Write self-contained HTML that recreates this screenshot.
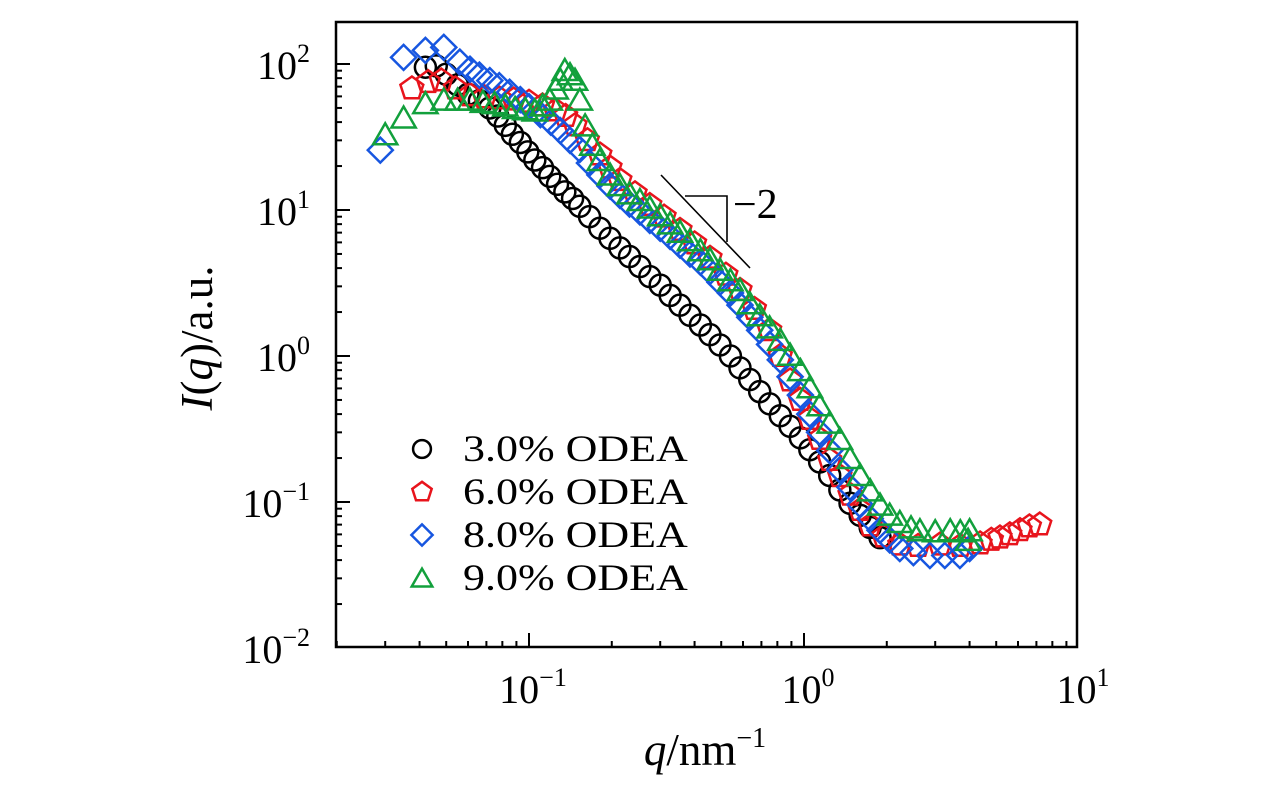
<!DOCTYPE html>
<html><head><meta charset="utf-8"><style>
html,body{margin:0;padding:0;background:#fff;}
svg{display:block;font-family:"Liberation Serif",serif;}
</style></head><body>
<svg id="chart" width="1276" height="787" viewBox="0 0 1276 787" xmlns="http://www.w3.org/2000/svg">
<g id="series"></g>
<rect x="336" y="22" width="741" height="625" fill="none" stroke="#000" stroke-width="2.5"/>
<g id="ticks"></g>
<g stroke="#000" stroke-width="1.6" fill="none">
<line x1="661" y1="175" x2="750" y2="268"/>
<polyline points="685,196 727,196 727,242"/>
</g>
<text x="733" y="218" font-size="42">−2</text>
<g id="legend"></g>
<text x="705" y="765" font-size="45" text-anchor="middle"><tspan font-style="italic">q</tspan>/nm<tspan dy="-18" font-size="28">−1</tspan></text>
<text transform="translate(212,338) rotate(-90)" font-size="45" text-anchor="middle"><tspan font-style="italic">I</tspan>(<tspan font-style="italic">q</tspan>)/a.u.</text>
</svg>
<script>
const xTickExps=[-1,0,1];
const yTickExps=[2,1,0,-1,-2];
const legendLabels=["3.0% ODEA","6.0% ODEA","8.0% ODEA","9.0% ODEA"];
const q3=[0.042,0.046,0.05,0.055,0.06,0.066,0.072,0.077,0.082,0.087,0.093,0.099,0.105,0.112,0.119,0.127,0.135,0.144,0.153,0.166,0.181,0.197,0.214,0.232,0.253,0.275,0.30,0.326,0.354,0.385,0.42,0.455,0.495,0.54,0.585,0.635,0.69,0.75,0.82,0.89,0.97,1.05,1.14,1.24,1.35,1.47,1.6,1.74,1.89];
const i3=[95,97,85,72,62,56,50,44,38,33,29,25,22,19.5,17,15,13.3,12,10.6,9,7.5,6.4,5.5,4.8,4.1,3.5,3.06,2.6,2.23,1.9,1.63,1.4,1.19,1.0,0.83,0.69,0.57,0.47,0.39,0.33,0.275,0.228,0.188,0.152,0.121,0.098,0.081,0.067,0.057];
const q6=[0.0375,0.043,0.048,0.054,0.061,0.069,0.078,0.088,0.1,0.112,0.125,0.136,0.147,0.163,0.181,0.197,0.214,0.243,0.275,0.31,0.354,0.4,0.455,0.52,0.585,0.66,0.75,0.82,0.89,0.97,1.05,1.14,1.24,1.35,1.47,1.6,1.74,1.95,2.23,2.6,3.12,3.7,4.37,4.8,5.16,5.6,6.1,6.6,7.2];
const i6=[68,75,77,68,61,59,58,57,55,52,48,44,38,30,24,19.5,16,13,10.8,9,7.3,5.9,4.7,3.6,2.83,2.1,1.5,1.0,0.68,0.5,0.37,0.27,0.194,0.15,0.112,0.088,0.069,0.058,0.051,0.05,0.051,0.05,0.052,0.055,0.057,0.06,0.064,0.068,0.07];
const q8=[0.0288,0.035,0.042,0.049,0.056,0.061,0.066,0.072,0.078,0.085,0.093,0.1,0.11,0.12,0.13,0.141,0.153,0.166,0.181,0.197,0.214,0.232,0.253,0.275,0.3,0.326,0.354,0.385,0.42,0.455,0.495,0.54,0.585,0.635,0.69,0.75,0.82,0.89,0.97,1.05,1.14,1.24,1.35,1.47,1.6,1.74,1.89,2.05,2.23,2.5,2.87,3.25,3.69,4.0];
const i8=[25.7,111,124,130,103,92,84,77,71,64,57,51,45,40,35,30,26,21,17.4,14.6,12.6,11,9.7,8.5,7.5,6.6,5.75,5.0,4.4,3.8,3.2,2.7,2.23,1.84,1.5,1.2,0.94,0.72,0.54,0.4,0.30,0.225,0.166,0.126,0.096,0.077,0.064,0.055,0.048,0.045,0.043,0.043,0.043,0.048];
const q9=[0.03,0.035,0.042,0.049,0.055,0.061,0.068,0.075,0.082,0.089,0.097,0.105,0.112,0.119,0.125,0.13,0.135,0.141,0.147,0.153,0.16,0.17,0.181,0.197,0.214,0.232,0.253,0.275,0.3,0.326,0.354,0.385,0.42,0.455,0.495,0.54,0.585,0.635,0.69,0.75,0.82,0.89,0.97,1.05,1.14,1.24,1.35,1.47,1.6,1.74,1.89,2.05,2.23,2.45,2.64,3.0,3.4,3.7,4.0,3.95];
const i9=[33,43,54,57,57,57,55,54,52,50,49,48,52,57,68,78,91,85,78,57,38,28,22,17.5,14.8,13,11.7,10.4,9.2,8.1,7.1,6.2,5.3,4.6,3.9,3.3,2.83,2.3,1.9,1.57,1.29,1.02,0.8,0.61,0.46,0.35,0.27,0.2,0.153,0.12,0.096,0.082,0.073,0.067,0.064,0.063,0.064,0.063,0.064,0.055];

const NS="http://www.w3.org/2000/svg";
const X0=804,DX=275,Y0=356,DY=146;
function xs(q){return X0+Math.log10(q)*DX;}
function ys(v){return Y0-Math.log10(v)*DY;}
function mk(tag,attrs,parent){const e=document.createElementNS(NS,tag);for(const k in attrs)e.setAttribute(k,attrs[k]);parent.appendChild(e);return e;}
function shape(type,cx,cy,parent,color,s){
  let e;
  if(type==='circle'){e=mk('circle',{cx:cx,cy:cy,r:10.5*s},parent);}
  else{let n=type==='pent'?5:type==='diam'?4:3;let rr=(type==='tri'?14:type==='diam'?12.5:12)*s;let off=type==='tri'?3*s:0;let pts=[];
    for(let k=0;k<n;k++){const a=-Math.PI/2+2*Math.PI*k/n;pts.push((cx+rr*Math.cos(a)).toFixed(1)+','+(cy+rr*Math.sin(a)+off).toFixed(1));}
    e=mk('polygon',{points:pts.join(' ')},parent);}
  e.setAttribute('fill','none');e.setAttribute('stroke',color);e.setAttribute('stroke-width','2.5');
  return e;
}
const series=[[q3,i3,'circle','#000'],[q6,i6,'pent','#e8141c'],[q8,i8,'diam','#1756e0'],[q9,i9,'tri','#12a03c']];
const sg=document.getElementById('series');
series.forEach((s,si)=>{
  const g=mk('g',{},sg);
  
  
  s[0].forEach((q,i)=>{const m=shape(s[2],xs(q),ys(s[1][i]),g,s[3],1);
    
    });
});
const tg=document.getElementById('ticks');
for(let e=-2;e<=0;e++){for(let m=1;m<10;m++){const x=xs(m*Math.pow(10,e));if(x<336||x>1077)continue;
  const len=m===1?14:6;const l=mk('line',{x1:x,y1:647,x2:x,y2:647-len,stroke:'#000','stroke-width':2},tg);
  
  }}
for(let e=-2;e<=2;e++){for(let m=1;m<10;m++){const y=ys(m*Math.pow(10,e));if(y<22||y>647)continue;
  const len=m===1?14:6;const l=mk('line',{x1:336,y1:y,x2:336+len,y2:y,stroke:'#000','stroke-width':2},tg);
  
  }}
xTickExps.forEach(e=>{const t=mk('text',{x:xs(Math.pow(10,e))+4,y:703,'font-size':40,'text-anchor':'middle'},tg);
  
  
  t.innerHTML='10<tspan dy="-17" font-size="26">'+(e<0?'−'+(-e):e)+'</tspan>';});
yTickExps.forEach(e=>{const t=mk('text',{x:310,y:ys(Math.pow(10,e))+15,'font-size':40,'text-anchor':'end'},tg);
  
  
  t.innerHTML='10<tspan dy="-17" font-size="26">'+(e<0?'−'+(-e):e)+'</tspan>';});
const lg=document.getElementById('legend');
legendLabels.forEach((lab,i)=>{const y=449+i*43;
  const m=shape(series[i][2],422,y,lg,series[i][3],0.85);
  
  
  const t=mk('text',{transform:'translate(463,'+(y+12)+') scale(1,0.85)','font-size':44},lg);t.textContent=lab;
  
  });
</script>
</body></html>
